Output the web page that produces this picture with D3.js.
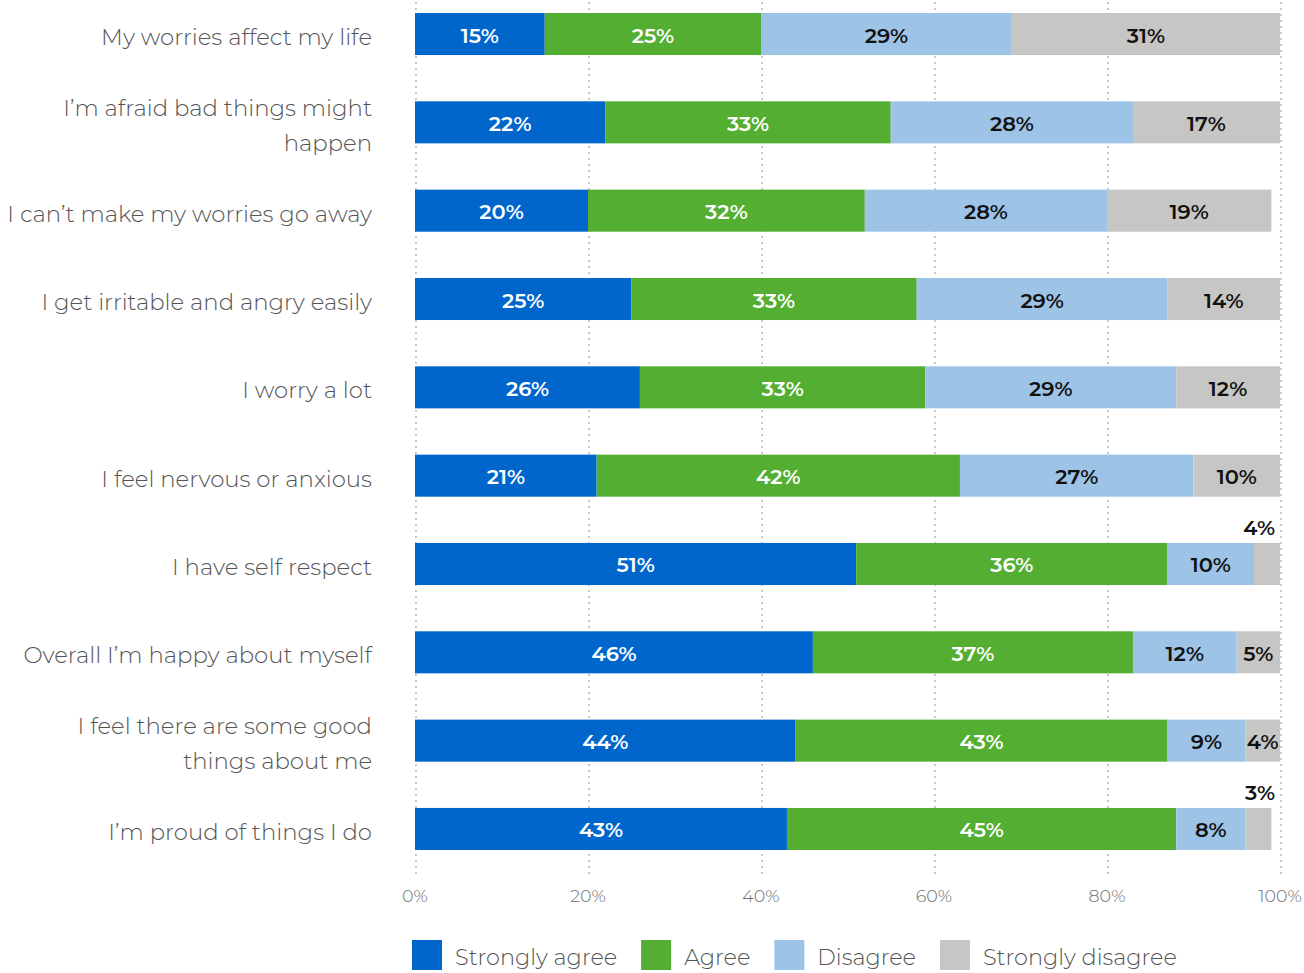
<!DOCTYPE html>
<html>
<head>
<meta charset="utf-8">
<script src="https://cdn.jsdelivr.net/npm/d3@7"></script>
<style>
  body { margin: 0; background: #fff; }
  svg { display: block; font-family: "Montserrat", "Open Sans", sans-serif; }
</style>
</head>
<body>
<div id="chart"></div>
<script>
// rows top to bottom, "\n" marks a line break in the label
var categories = [
  "My worries affect my life",
  "I\u2019m afraid bad things might\nhappen",
  "I can\u2019t make my worries go away",
  "I get irritable and angry easily",
  "I worry a lot",
  "I feel nervous or anxious",
  "I have self respect",
  "Overall I\u2019m happy about myself",
  "I feel there are some good\nthings about me",
  "I\u2019m proud of things I do"
];
var seriesNames = ["Strongly agree", "Agree", "Disagree", "Strongly disagree"];
var stronglyAgree    = [15, 22, 20, 25, 26, 21, 51, 46, 44, 43];
var agree            = [25, 33, 32, 33, 33, 42, 36, 37, 43, 45];
var disagree         = [29, 28, 28, 29, 29, 27, 10, 12, 9, 8];
var stronglyDisagree = [31, 17, 19, 14, 12, 10, 4, 5, 4, 3];
var xTicks = [0, 20, 40, 60, 80, 100];

var colors = ["#0066cc", "#53ae32", "#9dc3e6", "#c6c6c4"];
var labelColors = ["#ffffff", "#ffffff", "#111111", "#111111"];

var W = 1304, H = 973;
var svg = d3.select("#chart").append("svg")
  .attr("width", W)
  .attr("height", H);

var rows = categories.map(function (c, i) {
  return { cat: c, s0: stronglyAgree[i], s1: agree[i], s2: disagree[i], s3: stronglyDisagree[i] };
});
var stack = d3.stack().keys(["s0", "s1", "s2", "s3"]);
var layers = stack(rows);

var x = d3.scaleLinear().domain([0, 100]).range([415, 1280]).clamp(true);
var y = d3.scaleBand().domain(categories).range([13, 850]).paddingInner(0.524).paddingOuter(0);

/******** grid ********/
svg.append("g")
  .selectAll("line")
  .data(xTicks)
  .enter().append("line")
  .attr("x1", function (d) { return x(d) + 1; })
  .attr("x2", function (d) { return x(d) + 1; })
  .attr("y1", 2)
  .attr("y2", 878)
  .attr("stroke", "#c8c8c8")
  .attr("stroke-width", 2)
  .attr("stroke-dasharray", "2,4");

/******** bars ********/
var layerG = svg.append("g")
  .selectAll("g")
  .data(layers)
  .enter().append("g")
  .attr("fill", function (d, i) { return colors[i]; });

layerG.selectAll("rect")
  .data(function (d) { return d; })
  .enter().append("rect")
  .attr("x", function (d) { return x(d[0]); })
  .attr("y", function (d) { return y(d.data.cat); })
  .attr("width", function (d) { return x(d[1]) - x(d[0]); })
  .attr("height", y.bandwidth());

/******** value labels ********/
layers.forEach(function (layer, li) {
  svg.append("g")
    .selectAll("text")
    .data(layer)
    .enter().append("text")
    .each(function (d) {
      var w = x(d[1]) - x(d[0]);
      var v = d[1] - d[0];
      var t = d3.select(this)
        .attr("font-size", 21)
        .attr("font-weight", 600)
        .text(v + "%");
      if (w < 30) {
        // too narrow: put it above the bar, right aligned
        t.attr("x", 1275)
          .attr("y", y(d.data.cat) - 15)
          .attr("text-anchor", "end")
          .attr("dominant-baseline", "central")
          .attr("fill", "#111111");
      } else {
        t.attr("x", (x(d[0]) + x(d[1])) / 2)
          .attr("y", y(d.data.cat) + y.bandwidth() / 2 + 1)
          .attr("text-anchor", "middle")
          .attr("dominant-baseline", "central")
          .attr("fill", labelColors[li]);
      }
    });
});

/******** category labels ********/
svg.append("g")
  .selectAll("text")
  .data(categories)
  .enter().append("text")
  .attr("x", 372)
  .attr("text-anchor", "end")
  .attr("font-size", 22.8)
  .attr("font-weight", 300)
  .attr("fill", "#555555")
  .each(function (d) {
    var lines = d.split("\n");
    var cy = y(d) + y.bandwidth() / 2 + 3;
    var top = cy - (lines.length - 1) * 35 / 2;
    var t = d3.select(this);
    lines.forEach(function (ln, k) {
      t.append("tspan")
        .attr("x", 372)
        .attr("y", top + k * 35)
        .attr("dominant-baseline", "central")
        .text(ln);
    });
  });

/******** x axis ********/
svg.append("g")
  .selectAll("text")
  .data(xTicks)
  .enter().append("text")
  .attr("x", function (d) { return x(d); })
  .attr("y", 895)
  .attr("text-anchor", "middle")
  .attr("dominant-baseline", "central")
  .attr("font-size", 17.5)
  .attr("font-weight", 300)
  .attr("fill", "#6f6f6f")
  .text(function (d) { return d + "%"; });

/******** legend ********/
var lx = 412;
seriesNames.forEach(function (name, i) {
  svg.append("rect")
    .attr("x", lx)
    .attr("y", 940)
    .attr("width", 30)
    .attr("height", 30)
    .attr("fill", colors[i]);
  var t = svg.append("text")
    .attr("x", lx + 43)
    .attr("y", 957)
    .attr("dominant-baseline", "central")
    .attr("font-size", 22.4)
    .attr("font-weight", 300)
    .attr("fill", "#555555")
    .text(name);
  lx += 43 + t.node().getComputedTextLength() + 24;
});
</script>
</body>
</html>
